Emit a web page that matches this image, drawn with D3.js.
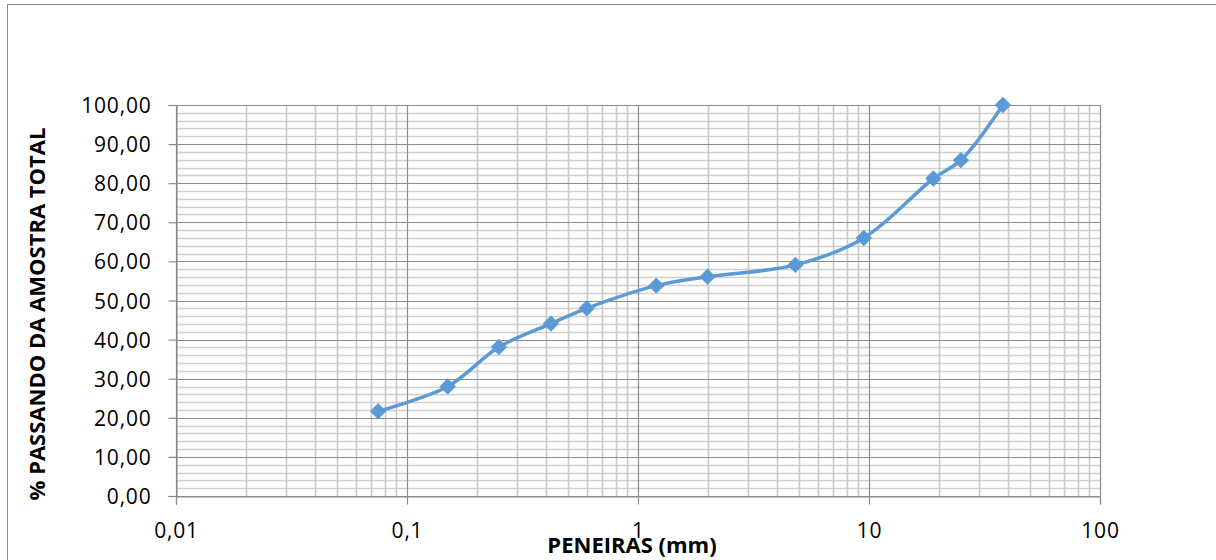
<!DOCTYPE html>
<html><head><meta charset="utf-8">
<script src="https://cdn.jsdelivr.net/npm/d3@7"></script>
<style>
html,body{margin:0;padding:0;background:#fff;}
svg{display:block;font-family:"Open Sans","Noto Sans",sans-serif;}
</style></head>
<body><svg id="c" width="1216" height="560"></svg>
<script>
// sieve sizes (mm) and % passing
const sieves = [0.075, 0.15, 0.25, 0.42, 0.6, 1.2, 2.0, 4.8, 9.5, 19, 25, 38];
const passing = [21.7, 28.0, 38.1, 44.1, 48.0, 53.8, 56.1, 59.1, 66.0, 81.2, 85.9, 100.0];
const xTickValues = [0.01, 0.1, 1, 10, 100];
const xTickLabels = ["0,01", "0,1", "1", "10", "100"];
const yTickValues = [0, 10, 20, 30, 40, 50, 60, 70, 80, 90, 100];
const xTitle = "PENEIRAS (mm)";
const yTitle = "% PASSANDO DA AMOSTRA TOTAL";

const svg = d3.select("#c");
const L = 176, R = 1100, T = 105, B = 496;
const x = d3.scaleLog().domain([0.01, 100]).range([L, R]);
const y = d3.scaleLinear().domain([0, 100]).range([B, T]);

// outer chart border
svg.append("rect").attr("x", 7.5).attr("y", 4.5).attr("width", 1240).attr("height", 600)
  .attr("fill", "none").attr("stroke", "#8a8a8a").attr("stroke-width", 1);

const g = svg.append("g");
// minor horizontal gridlines (every 2)
const yMinor = d3.range(0, 101, 2).filter(v => v % 10 !== 0);
g.selectAll(".hmin").data(yMinor).join("line")
  .attr("x1", L).attr("x2", R).attr("y1", d => Math.round(y(d)) + 0.5).attr("y2", d => Math.round(y(d)) + 0.5)
  .attr("stroke", "#cfcfcf").attr("stroke-width", 1.6);
// minor vertical gridlines
const xMinor = [];
[0.01, 0.1, 1, 10].forEach(b => { for (let k = 2; k <= 9; k++) xMinor.push(b * k); });
g.selectAll(".vmin").data(xMinor).join("line")
  .attr("y1", T).attr("y2", B).attr("x1", d => Math.round(x(d)) + 0.5).attr("x2", d => Math.round(x(d)) + 0.5)
  .attr("stroke", "#c8c8c8").attr("stroke-width", 1.6);
// major gridlines
g.selectAll(".hmaj").data(yTickValues).join("line")
  .attr("x1", L).attr("x2", R).attr("y1", d => Math.round(y(d)) + 0.5).attr("y2", d => Math.round(y(d)) + 0.5)
  .attr("stroke", "#8c8c8c").attr("stroke-width", 1.2);
g.selectAll(".vmaj").data(xTickValues).join("line")
  .attr("y1", T).attr("y2", B).attr("x1", d => Math.round(x(d)) + 0.5).attr("x2", d => Math.round(x(d)) + 0.5)
  .attr("stroke", "#8c8c8c").attr("stroke-width", 1.2);

// axes
const fmtY = d => d3.format(".2f")(d).replace(".", ",");
const yAxis = d3.axisLeft(y).tickValues(yTickValues).tickFormat(fmtY).tickSize(8).tickPadding(17);
const ya = svg.append("g").attr("transform", `translate(${L + 0.5},0)`).call(yAxis);
const xAxis = d3.axisBottom(x).tickValues(xTickValues).tickFormat((d, i) => xTickLabels[i]).tickSize(8).tickPadding(19);
const xa = svg.append("g").attr("transform", `translate(0,${B + 0.5})`).call(xAxis);
[ya, xa].forEach(a => {
  a.select(".domain").attr("stroke", "#8c8c8c").attr("stroke-width", 1.2);
  a.selectAll(".tick line").attr("stroke", "#8c8c8c").attr("stroke-width", 1.2);
  a.selectAll(".tick text").attr("fill", "#000").style("font-size", "21px")
    .style("letter-spacing", "0.8px")
    .style("font-family", "'Open Sans','Noto Sans',sans-serif");
});
ya.selectAll(".tick text").attr("dy", "0.36em");

// titles
svg.append("text").attr("x", 632).attr("y", 553).attr("text-anchor", "middle")
  .style("font-size", "22px").style("font-weight", "bold").text(xTitle);
svg.append("text").attr("transform", "translate(45,314) rotate(-90)").attr("text-anchor", "middle")
  .style("font-size", "22px").style("font-weight", "bold").text(yTitle);

// data line
const pts = sieves.map((s, i) => [s, passing[i]]);
const line = d3.line().x(d => x(d[0])).y(d => y(d[1])).curve(d3.curveCatmullRom.alpha(0.5));
svg.append("path").datum(pts).attr("d", line).attr("fill", "none")
  .attr("stroke", "#5b9bd5").attr("stroke-width", 3.5).attr("stroke-linejoin", "round");

// diamond markers
const diamond = d3.symbol().type(d3.symbolSquare).size(112);
svg.selectAll(".mk").data(pts).join("path")
  .attr("d", diamond)
  .attr("transform", d => `translate(${x(d[0])},${y(d[1])}) rotate(45)`)
  .attr("fill", "#5b9bd5").attr("stroke", "#5b9bd5").attr("stroke-width", 1);
</script></body></html>
